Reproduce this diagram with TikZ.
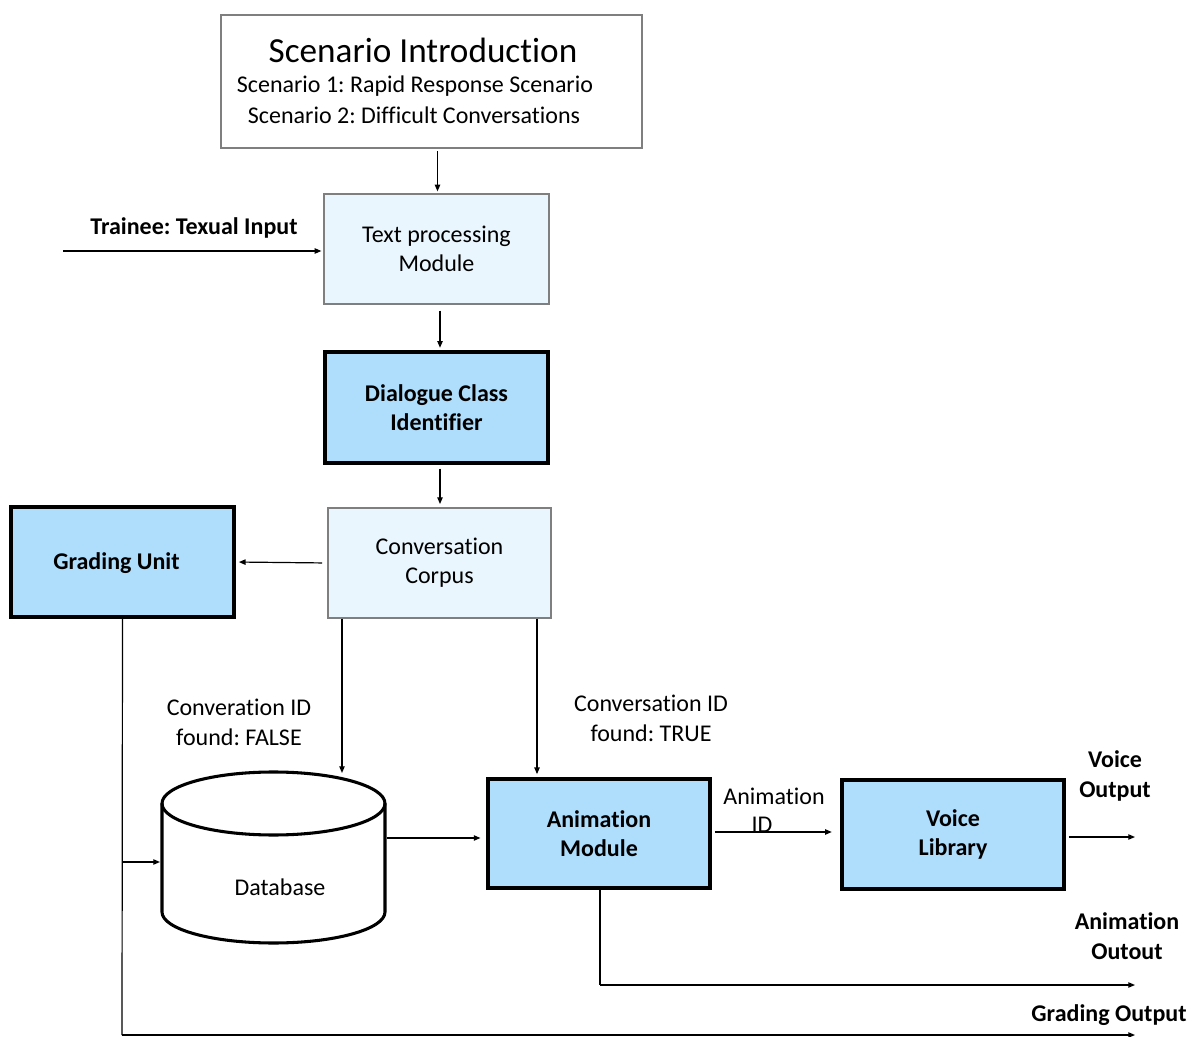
\documentclass[tikz,border=0pt]{standalone}
\usepackage{fontspec}
\setmainfont{Carlito}[Ligatures={NoCommon}]
\usetikzlibrary{arrows.meta,calc}
\definecolor{lightbox}{HTML}{EAF6FD}
\definecolor{bluebox}{HTML}{AFDDFC}
\definecolor{thinline}{HTML}{7F7F7F}
\def\px{0.75pt}
\frenchspacing
\tikzset{
  thinbox/.style={draw=thinline, line width=0.9pt, fill=lightbox, inner sep=0pt},
  whitebox/.style={draw=thinline, line width=0.9pt, fill=white, inner sep=0pt},
  thickbox/.style={draw=black, line width=2.3pt, fill=bluebox, inner sep=0pt},
  arr/.style={line width=0.9pt, -{Triangle[length=5pt,width=4pt]}},
  plain/.style={line width=0.9pt},
  txt/.style={font=\fontsize{18}{22}\selectfont, align=center, inner sep=0pt},
  btxt/.style={font=\fontsize{18}{22}\selectfont\bfseries, align=center, inner sep=0pt},
}
\begin{document}
\begin{tikzpicture}[x=0.75pt, y=-0.75pt]
\useasboundingbox (0,0) rectangle (1190,1037);
% boxes
\node[whitebox, minimum width=421*\px, minimum height=133*\px] (intro) at (431.5,81.5) {};
\node[font=\fontsize{26.4}{30}\selectfont, inner sep=0pt] (introtitle) at (423,50) {Scenario Introduction};
\node[txt] (introa) at (415,86) {Scenario 1: Rapid Response Scenario};
\node[txt] (introb) at (414,115) {Scenario 2: Difficult Conversations};

\node[thinbox, minimum width=225*\px, minimum height=110*\px, txt] (tp) at (436.5,249) {Text processing\\Module};
\node[thickbox, minimum width=223*\px, minimum height=111*\px, btxt] (dci) at (436.5,407.5) {Dialogue Class\\Identifier};
\node[thinbox, minimum width=223*\px, minimum height=110*\px, txt] (cc) at (439.5,563) {Conversation\\Corpus};
\node[thickbox, minimum width=223*\px, minimum height=110*\px] (gu) at (122.5,562) {};
\node[btxt] (gutext) at (116.5,563) {Grading Unit};
\node[thickbox, minimum width=222*\px, minimum height=109*\px, btxt] (am) at (599,833.5) {Animation\\Module};
\node[thickbox, minimum width=222*\px, minimum height=109*\px, btxt] (vl) at (953,834.5) {Voice\\Library};

% database cylinder
\node[minimum width=223*\px, minimum height=172*\px, inner sep=0pt] (db) at (273.5,857.5) {};
\draw[line width=2.3pt, fill=white]
  (162,803.5) -- (162,912) arc[start angle=180, end angle=0, x radius=111.5, y radius=31]
  -- (385,803.5) arc[start angle=0, end angle=-180, x radius=111.5, y radius=31.5] -- cycle;
\draw[line width=2.3pt] (162,803.5) arc[start angle=180, end angle=0, x radius=111.5, y radius=31.5];
\node[txt] (dbtext) at (280,887) {Database};

% labels
\node[btxt] (trainee) at (194,228) {Trainee: Texual Input};
\node[txt] (falselbl) at (239,722.5) {Converation ID\\found: FALSE};
\node[txt] (truelbl) at (651,718.5) {Conversation ID\\found: TRUE};
\node[txt] (animid1) at (774,796) {Animation};
\node[txt] (animid2) at (762,825) {ID};
\node[btxt] (voiceout) at (1115,776) {Voice\\Output};
\node[btxt] (animout) at (1127,936) {Animation\\Outout};
\node[btxt] (gradeout) at (1109,1015) {Grading Output};

% connector helper coordinates
\coordinate (trainstart) at (63,251);
\coordinate (vend) at (1135,837);
\coordinate (aend) at (1135,985);
\coordinate (gend) at (1135,1035);
\coordinate (gcorner) at (122,1035);
\coordinate (gbranch) at (122,862);
\coordinate (acorner) at (600,985);
\coordinate (dbleft) at (160,862);
\coordinate (dbtop) at (342,773);
\coordinate (dbright) at (387,838);

% connectors
\draw[arr, shorten <=2pt, shorten >=1.5pt] ([xshift=6*\px]intro.south) -- ([xshift=6*\px]intro.south |- tp.north);
\draw[arr, shorten >=1.5pt] (trainstart) -- (trainstart -| tp.west);
\draw[arr, shorten <=4.5pt, shorten >=2pt] ([xshift=3.5*\px]tp.south) -- ([xshift=3.5*\px]tp.south |- dci.north);
\draw[arr, shorten <=3pt, shorten >=2.5pt] ([xshift=3.5*\px]dci.south) -- ([xshift=3.5*\px]dci.south |- cc.north);
\draw[arr, shorten <=4pt, shorten >=2.5pt] (cc.west) -- (gu.east);
\draw[arr] ([xshift=-97.5*\px]cc.south) -- (dbtop);
\draw[arr, shorten >=2.5pt] ([xshift=97.5*\px]cc.south) -- ([xshift=97.5*\px]cc.south |- am.north);
\draw[plain] (gu.south) -- (gcorner);
\draw[arr] (gcorner) -- (gend);
\draw[arr] (gbranch) -- (dbleft);
\draw[arr, shorten >=4.5pt] (dbright) -- (dbright -| am.west);
\draw[arr, shorten <=2.5pt, shorten >=6.5pt] ([yshift=1.5*\px]am.east) -- ([yshift=1.5*\px]am.east -| vl.west);
\draw[arr, shorten <=2.5pt] (vl.east |- vend) -- (vend);
\draw[plain] (am.south -| acorner) -- (acorner);
\draw[arr] (acorner) -- (aend);
\end{tikzpicture}
\end{document}
